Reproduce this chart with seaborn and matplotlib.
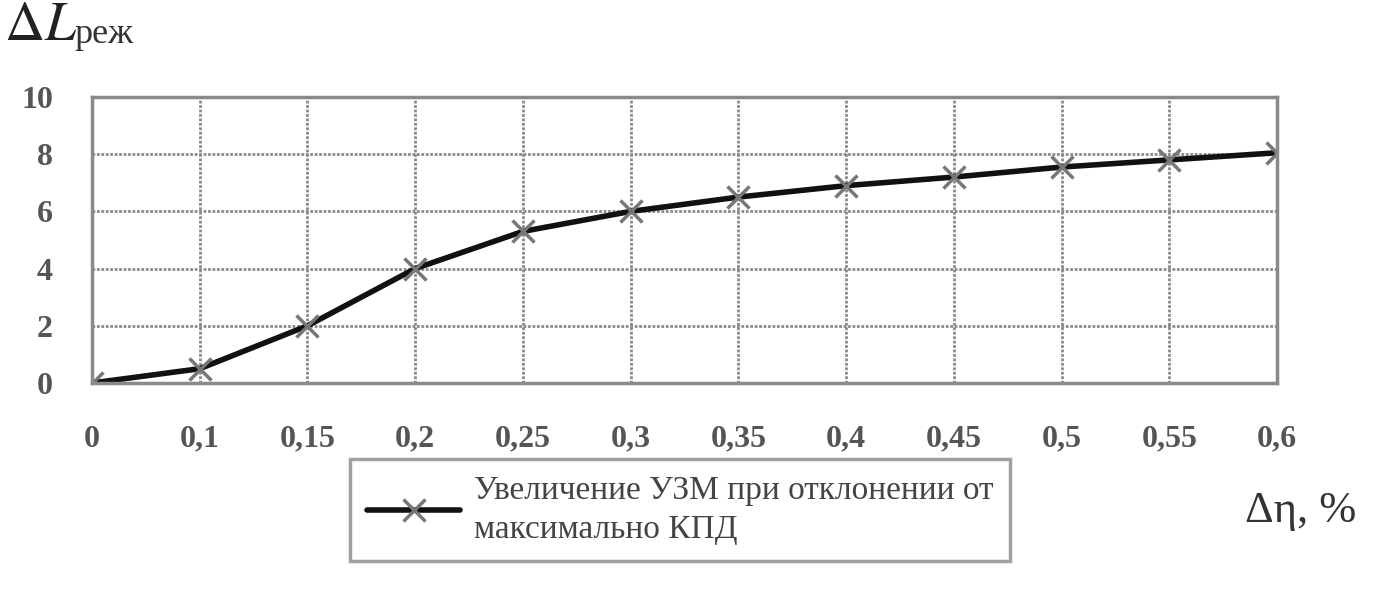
import pandas as pd
import numpy as np
import matplotlib
matplotlib.use("Agg")
import matplotlib.pyplot as plt
import seaborn as sns

# Data
eta_labels = ["0", "0,1", "0,15", "0,2", "0,25", "0,3", "0,35", "0,4", "0,45", "0,5", "0,55", "0,6"]
dL_values = [0.0, 0.5, 2.0, 4.0, 5.3, 6.0, 6.5, 6.9, 7.2, 7.55, 7.8, 8.05]
y_ticks = [0, 2, 4, 6, 8, 10]
series_name = "Увеличение УЗМ при отклонении от\nмаксимально КПД"

df = pd.DataFrame({"eta": eta_labels, "dL": dL_values})

sns.set_theme(style="white")
plt.rcParams["font.family"] = ["Liberation Serif", "DejaVu Serif"]
plt.rcParams["mathtext.fontset"] = "stix"

grey = "#8a8a8a"
fig = plt.figure(figsize=(13.77, 6.13), dpi=100)
ax = fig.add_axes([0.0668, 0.3752, 0.8606, 0.4666])

sns.lineplot(data=df, x="eta", y="dL", ax=ax, color="#111111", linewidth=4,
             marker="x", markersize=16, markeredgewidth=2.5, markeredgecolor="#777777",
             label=series_name, legend=False)

ax.set_xlim(0, len(eta_labels) - 1)
ax.set_ylim(0, 10)
ax.set_yticks(y_ticks)
ax.grid(True, color=grey, linewidth=2, linestyle=(0, (1, 0.6)))
for s in ax.spines.values():
    s.set_color(grey)
    s.set_linewidth(2.5)
ax.tick_params(axis="both", colors=grey, labelcolor="#555555", labelsize=23, length=0)
ax.tick_params(axis="x", pad=30)
ax.tick_params(axis="y", pad=28)
for lab in ax.get_xticklabels() + ax.get_yticklabels():
    lab.set_fontweight("bold")
ax.set_xlabel("")
ax.set_ylabel("")

# axis captions
fig.text(0.003, 0.935, r"$\Delta L$", fontsize=40, color="#222222", ha="left", va="baseline")
fig.text(0.054, 0.93, "реж", fontsize=26, color="#333333", ha="left", va="baseline")
fig.text(0.904, 0.148, "Δη, %", fontsize=32, color="#333333", ha="left", va="baseline")

leg = fig.legend(loc="center", bbox_to_anchor=(0.494, 0.168), fontsize=24, frameon=True,
                 fancybox=False, edgecolor=grey, handlelength=2.8, borderpad=0.5,
                 handletextpad=0.4, labelcolor="#444444")
leg.get_frame().set_linewidth(2.5)
for t in leg.get_texts():
    t.set_linespacing(1.35)

fig.savefig("out.png", dpi=100)
